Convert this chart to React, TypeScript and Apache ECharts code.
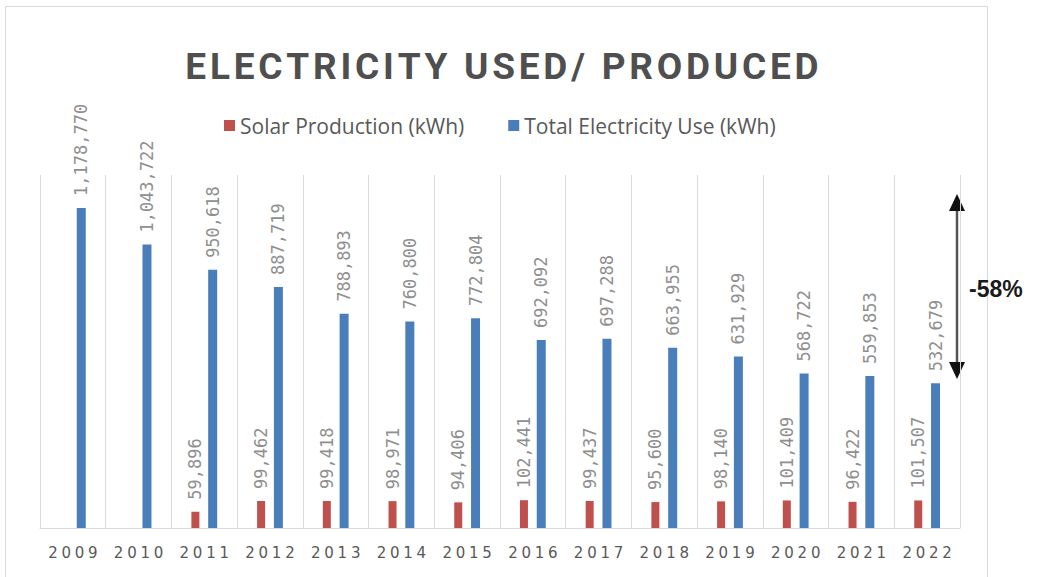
import React, { useEffect, useRef } from "react";
import * as echarts from "echarts";

const years = ["2009", "2010", "2011", "2012", "2013", "2014", "2015", "2016", "2017", "2018", "2019", "2020", "2021", "2022"];
const solarProduction = [null, null, 59896, 99462, 99418, 98971, 94406, 102441, 99437, 95600, 98140, 101409, 96422, 101507];
const totalUse = [1178770, 1043722, 950618, 887719, 788893, 760800, 772804, 692092, 697288, 663955, 631929, 568722, 559853, 532679];
const seriesNames = ["Solar Production (kWh)", "Total Electricity Use (kWh)"];
const titleText = "ELECTRICITY USED/ PRODUCED";
const changeText = "-58%";

const fmt = (v: number) => v.toLocaleString("en-US");
const spaced = (s: string, sep: string) => s.split("").join(sep);

export default function App() {
  const ref = useRef<HTMLDivElement>(null);
  useEffect(() => {
    if (!ref.current) return;
    const chart = echarts.init(ref.current, undefined, { renderer: "svg" });
    const labelStyle = {
      show: true,
      position: "top" as const,
      rotate: 90,
      align: "left" as const,
      verticalAlign: "middle" as const,
      distance: 12,
      color: "#8f8f8f",
      fontFamily: "DejaVu Sans Mono",
      fontSize: 17,
      formatter: (p: any) => fmt(p.value),
    };
    chart.setOption({
      animation: false,
      backgroundColor: "#ffffff",
      title: {
        text: spaced(titleText, "\u200A"),
        left: 497,
        textAlign: "center",
        top: 43,
        textStyle: {
          fontFamily: "Roboto",
          fontWeight: "bold",
          fontSize: 37,
          color: "#4f4f4f",
        },
      },
      legend: {
        top: 110,
        left: 219,
        itemWidth: 11,
        itemHeight: 11,
        itemGap: 44,
        icon: "rect",
        textStyle: { fontFamily: "Open Sans", fontSize: 21, color: "#595959", padding: [0, 0, 0, 0] },
        data: seriesNames,
      },
      grid: { left: 40, right: 86, top: 175, bottom: 49 },
      xAxis: {
        type: "category",
        data: years,
        axisLine: { lineStyle: { color: "#d9d9d9" } },
        axisTick: { show: false },
        splitLine: { show: true, interval: 0, lineStyle: { color: "#d9d9d9" } },
        axisLabel: {
          interval: 0,
          margin: 17,
          fontFamily: "DejaVu Sans",
          fontSize: 15,
          color: "#595959",
          formatter: (v: string) => spaced(v, "\u2005"),
        },
      },
      yAxis: {
        type: "value",
        min: 0,
        max: 1300000,
        show: false,
        splitLine: { show: false },
      },
      series: [
        {
          name: seriesNames[0],
          type: "bar",
          data: solarProduction,
          barWidth: 8,
          barGap: "110%",
          itemStyle: { color: "#c0504d" },
          label: labelStyle,
        },
        {
          name: seriesNames[1],
          type: "bar",
          data: totalUse,
          barWidth: 9,
          itemStyle: { color: "#4a7ebb" },
          label: labelStyle,
        },
      ],
      graphic: [
        {
          type: "rect",
          shape: { x: 5.5, y: 6.5, width: 982, height: 600 },
          style: { fill: "none", stroke: "#d9d9d9", lineWidth: 1 },
          silent: true,
        },
        {
          type: "line",
          shape: { x1: 957, y1: 208, x2: 957, y2: 365 },
          style: { stroke: "#555555", lineWidth: 2.5 },
        },
        {
          type: "polygon",
          shape: { points: [[957, 194], [949, 211], [965, 211]] },
          style: { fill: "#111111" },
        },
        {
          type: "polygon",
          shape: { points: [[957, 379], [949, 362], [965, 362]] },
          style: { fill: "#111111" },
        },
        {
          type: "text",
          x: 969,
          y: 289,
          style: {
            text: changeText,
            fontFamily: "Liberation Sans",
            fontWeight: "bold",
            fontSize: 23,
            fill: "#1a1a1a",
            verticalAlign: "middle",
          },
        },
      ],
    });
    return () => chart.dispose();
  }, []);
  return <div ref={ref} style={{ position: "fixed", left: 0, top: 0, width: 1046, height: 577 }} />;
}
